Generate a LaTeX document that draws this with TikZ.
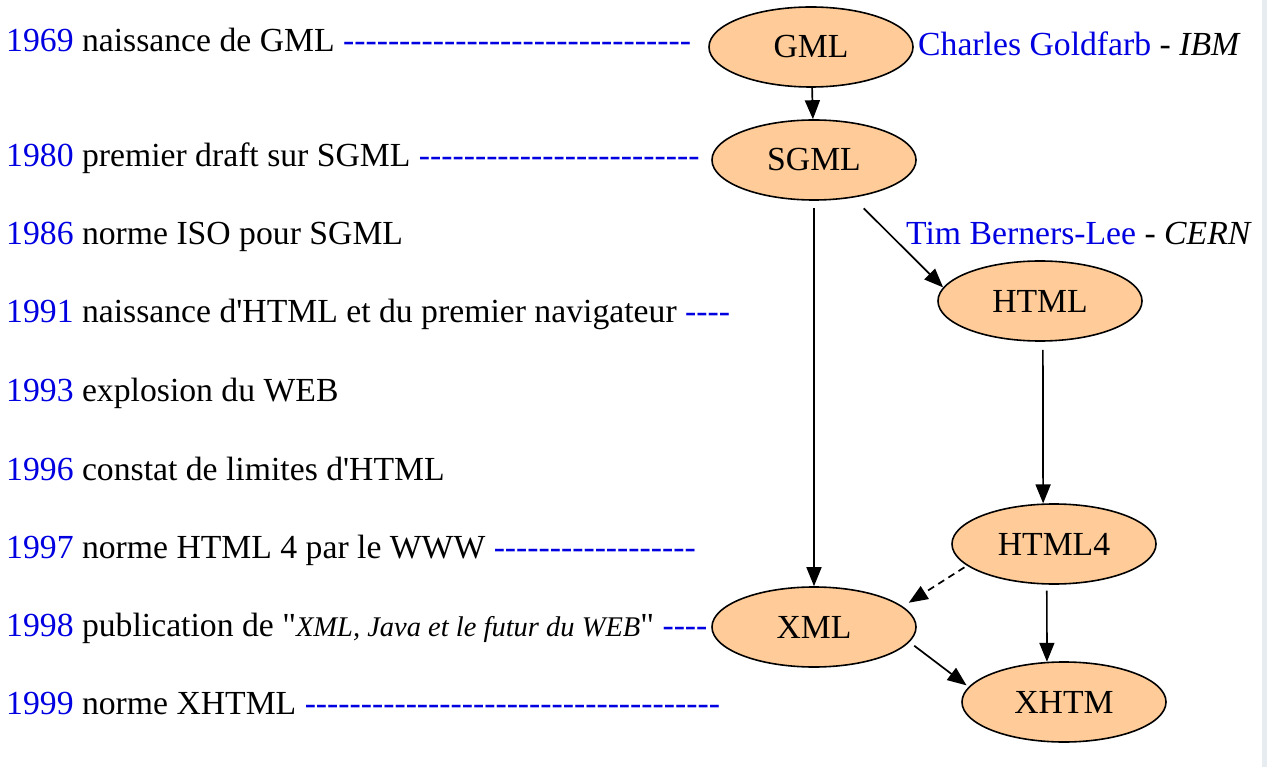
\documentclass[tikz,border=0pt]{standalone}
\usepackage{fontspec}
\setmainfont{Liberation Serif}[Ligatures=TeXOff]
\usetikzlibrary{shapes.geometric,arrows.meta}
\definecolor{peche}{RGB}{255,204,153}
\definecolor{bleu}{RGB}{0,0,225}
\definecolor{bord}{RGB}{230,236,240}
\newcommand\annee[1]{\textcolor{bleu}{#1}}
\newcommand\tirets[1]{\textcolor{bleu}{\foreach \i in {1,...,#1}{-}}}
\newcommand\titre[1]{{\fontsize{28.5}{34}\selectfont\itshape #1}}
\begin{document}
\begin{tikzpicture}[x=1pt,y=-1pt,
    font=\fontsize{33.7}{40}\selectfont,
    etape/.style={ellipse,draw,line width=1.6pt,fill=peche,
      minimum width=204pt,minimum height=80pt,inner sep=0pt},
    ligne/.style={anchor=base west,inner sep=0pt},
    fleche/.style={line width=1.7pt,-{Triangle[length=19pt,width=15pt]}}]
    \useasboundingbox (0,0) rectangle (1267,767);
    \fill[bord] (1262,0) rectangle (1267,767);
    %% Dates
    \node[ligne] (t69) at (6,52)  {\annee{1969} naissance de GML \tirets{31}};
    \node[ligne] (t80) at (6,167) {\annee{1980} premier draft sur SGML \tirets{25}};
    \node[ligne] (t86) at (6,245) {\annee{1986} norme ISO pour SGML};
    \node[ligne] (t91) at (6,323) {\annee{1991} naissance d'HTML et du premier navigateur \tirets{4}};
    \node[ligne] (t93) at (6,401) {\annee{1993} explosion du WEB};
    \node[ligne] (t96) at (6,480) {\annee{1996} constat de limites d'HTML};
    \node[ligne] (t97) at (6,558) {\annee{1997} norme HTML 4 par le WWW \tirets{18}};
    \node[ligne] (t98) at (6,636) {\annee{1998} publication de "\titre{XML, Java et le futur du WEB}" \tirets{4}};
    \node[ligne] (t99) at (6,714) {\annee{1999} norme XHTML \tirets{37}};
    %% Langages
    \node[etape] (GML)   at (811,47)   {GML};
    \node[etape] (SGML)  at (814,160)  {SGML};
    \node[etape] (HTML)  at (1040,301) {HTML};
    \node[etape] (HTML4) at (1054,544) {HTML4};
    \node[etape] (XML)   at (814,627)  {XML};
    \node[etape] (XHTM)  at (1064,702) {XHTM};
    %% Auteurs
    \node[ligne] (goldfarb) at (918,56)  {\annee{Charles Goldfarb} - \textit{IBM}};
    \node[ligne] (berners)  at (906,245) {\annee{Tim Berners-Lee} - \textit{CERN}};
    %% Filiation
    \draw[fleche] (GML) -- (SGML);
    \draw[fleche,shorten <=7pt] (SGML.south) -- (XML.north);
    \draw[fleche,shorten <=15pt] (SGML.-44.5) -- (HTML.172);
    \draw[fleche,shorten <=8pt] (HTML.-86) -- (HTML4.105);
    \draw[fleche,dashed,dash pattern=on 7pt off 5pt,shorten <=3pt,shorten >=7pt] (HTML4.194.5) -- (XML.13);
    \draw[fleche,shorten <=6pt] (HTML4.260) -- (XHTM.113);
    \draw[fleche,shorten <=6pt,shorten >=2.5pt] (XML.-9) -- (XHTM.171);
\end{tikzpicture}
\end{document}
